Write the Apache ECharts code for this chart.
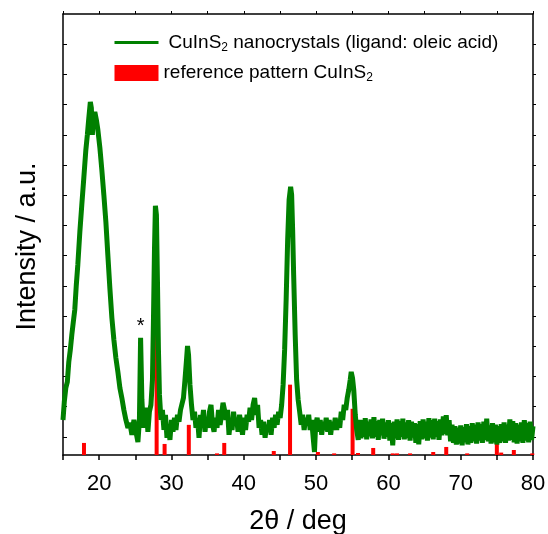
<!DOCTYPE html>
<html>
<head>
<meta charset="utf-8">
<script src="https://cdn.jsdelivr.net/npm/echarts@6/dist/echarts.min.js"></script>
<style>
html, body { margin: 0; padding: 0; background: #fff; }
#chart { width: 548px; height: 534px; }
</style>
</head>
<body>
<div id="chart"></div>
<script>
// measured XRD pattern of the nanocrystals: [2theta, intensity (a.u.)]
var nanoPattern = [
    [15.00, 0.56], [15.18, 1.16], [15.39, 1.62], [15.60, 1.82], [15.80, 2.48], [16.01, 2.88],
    [16.22, 3.38], [16.43, 3.81], [16.63, 4.21], [16.84, 5.03], [17.05, 5.70], [17.33, 6.79],
    [17.60, 7.68], [17.88, 8.58], [18.16, 9.50], [18.37, 10.0], [18.57, 10.56], [18.78, 11.09],
    [18.92, 10.89], [19.06, 10.0], [19.20, 10.56], [19.40, 10.76], [19.61, 10.50], [19.82, 10.17],
    [20.10, 9.57], [20.37, 8.84], [20.65, 8.01], [20.93, 7.12], [21.20, 6.03], [21.48, 4.93],
    [21.76, 3.94], [22.04, 3.21], [22.31, 2.62], [22.59, 2.15], [22.87, 1.62], [23.14, 1.29],
    [23.42, 0.89], [23.70, 0.56], [23.98, 0.30], [24.25, 0.46], [24.53, 0.07], [24.81, 0.56],
    [25.09, 0.17], [25.36, -0.17], [25.57, 0.56], [25.73, 3.28], [25.91, 1.23], [26.12, 0.30],
    [26.33, 0.73], [26.54, 0.96], [26.74, 0.17], [26.95, 0.83], [27.16, 1.06], [27.37, 1.89],
    [27.51, 3.87], [27.65, 6.19], [27.78, 7.65], [27.92, 7.35], [28.06, 5.20], [28.20, 2.88],
    [28.34, 1.39], [28.55, 0.56], [28.75, 0.89], [28.96, 0.23], [29.17, 0.73], [29.38, -0.03],
    [29.58, 0.40], [29.79, -0.10], [30.00, 0.56], [30.21, 0.17], [30.42, 0.63], [30.62, 0.23],
    [30.83, 0.73], [31.04, 0.50], [31.25, 0.89], [31.45, 0.83], [31.66, 1.29], [31.87, 1.89],
    [32.08, 2.55], [32.22, 3.01], [32.36, 2.72], [32.56, 1.72], [32.77, 1.06], [32.98, 0.56],
    [33.19, 0.83], [33.39, 0.30], [33.60, 0.63], [33.81, -0.03], [34.02, 0.73], [34.22, 0.40],
    [34.43, 0.89], [34.64, 0.17], [34.85, 0.63], [35.06, 0.30], [35.26, 0.83], [35.47, 1.06],
    [35.68, 0.40], [35.89, 0.17], [36.09, 0.63], [36.30, 0.30], [36.51, 0.89], [36.72, 0.40],
    [36.93, 0.73], [37.13, 1.13], [37.34, 0.89], [37.55, 0.56], [37.76, 0.89], [37.96, 0.07],
    [38.17, 0.56], [38.38, 0.23], [38.59, 0.83], [38.79, 0.40], [39.00, 0.63], [39.21, 0.17],
    [39.42, 0.73], [39.63, 0.40], [39.83, 0.07], [40.04, 0.63], [40.25, 0.23], [40.46, 0.73],
    [40.67, 0.50], [40.87, 0.96], [41.08, 0.56], [41.29, 1.06], [41.50, 1.29], [41.70, 0.73],
    [41.91, 1.06], [42.12, 0.30], [42.33, 0.56], [42.53, 0.07], [42.74, 0.50], [42.95, -0.03],
    [43.16, 0.40], [43.37, 0.17], [43.57, 0.56], [43.78, 0.07], [43.99, 0.63], [44.20, 0.30],
    [44.40, 0.73], [44.61, 0.40], [44.82, 0.83], [45.03, 0.63], [45.24, 1.06], [45.44, 1.72],
    [45.65, 2.88], [45.86, 4.54], [46.07, 6.52], [46.27, 7.85], [46.48, 8.28], [46.62, 8.01],
    [46.76, 6.85], [46.90, 5.36], [47.11, 3.38], [47.31, 1.89], [47.52, 1.23], [47.73, 0.83],
    [47.94, 0.40], [48.14, 0.73], [48.35, 0.23], [48.56, 0.63], [48.77, 0.40], [48.98, 0.73],
    [49.18, 0.23], [49.39, 0.56], [49.60, -0.03], [49.78, -0.50], [49.94, 0.40], [50.15, 0.63],
    [50.36, 0.17], [50.57, 0.56], [50.78, 0.07], [50.98, 0.50], [51.19, 0.23], [51.40, 0.63],
    [51.61, 0.17], [51.81, 0.56], [52.02, 0.07], [52.23, 0.50], [52.44, 0.23], [52.65, 0.63],
    [52.85, 0.23], [53.06, 0.56], [53.27, 0.30], [53.48, 0.83], [53.68, 0.56], [53.89, 1.06],
    [54.10, 0.89], [54.31, 1.29], [54.52, 1.56], [54.72, 1.89], [54.86, 2.15], [55.04, 1.95],
    [55.21, 1.56], [55.42, 0.73], [55.62, 0.23], [55.83, -0.10], [56.04, 0.56], [56.2, -0.05],
    [56.4, 0.55], [56.6, 0.00], [56.8, 0.62], [57.0, -0.08], [57.2, 0.50], [57.4, 0.02],
    [57.6, 0.58], [57.8, -0.05], [58.0, 0.65], [58.2, 0.00], [58.4, 0.52], [58.6, -0.10],
    [58.8, 0.56], [59.0, 0.05], [59.2, 0.60], [59.4, -0.06], [59.6, 0.48], [59.8, 0.00],
    [60.0, 0.55], [60.2, -0.12], [60.4, 0.45], [60.6, -0.28], [60.8, 0.50], [61.0, -0.05],
    [61.2, 0.58], [61.4, -0.10], [61.6, 0.52], [61.8, 0.00], [62.0, 0.60], [62.2, -0.08],
    [62.4, 0.48], [62.6, -0.04], [62.8, 0.55], [63.0, -0.12], [63.2, 0.50], [63.4, -0.02],
    [63.6, 0.45], [63.8, -0.20], [64.0, 0.42], [64.2, -0.25], [64.4, 0.52], [64.6, -0.08],
    [64.8, 0.58], [65.0, -0.05], [65.2, 0.50], [65.4, -0.12], [65.6, 0.62], [65.8, -0.02],
    [66.0, 0.55], [66.2, -0.08], [66.4, 0.60], [66.6, 0.00], [66.8, 0.52], [67.0, -0.10],
    [67.2, 0.58], [67.4, 0.05], [67.6, 0.68], [67.8, 0.10], [68.0, 0.72], [68.2, 0.05],
    [68.4, 0.55], [68.6, -0.15], [68.8, 0.40], [69.0, -0.20], [69.2, 0.35], [69.4, -0.25],
    [69.6, 0.30], [69.8, -0.22], [70.0, 0.38], [70.2, -0.28], [70.4, 0.32], [70.6, -0.18],
    [70.8, 0.42], [71.0, -0.25], [71.2, 0.35], [71.4, -0.20], [71.6, 0.45], [71.8, -0.15],
    [72.0, 0.40], [72.2, -0.22], [72.4, 0.48], [72.6, -0.12], [72.8, 0.42], [73.0, -0.20],
    [73.2, 0.50], [73.4, -0.10], [73.6, 0.60], [73.8, -0.15], [74.0, 0.38], [74.2, -0.22],
    [74.4, 0.45], [74.6, -0.18], [74.8, 0.40], [75.0, -0.25], [75.2, 0.35], [75.4, -0.20],
    [75.6, 0.42], [75.8, -0.15], [76.0, 0.48], [76.2, -0.20], [76.4, 0.40], [76.6, -0.12],
    [76.8, 0.58], [77.0, -0.10], [77.2, 0.52], [77.4, -0.18], [77.6, 0.45], [77.8, -0.22],
    [78.0, 0.40], [78.2, -0.15], [78.4, 0.48], [78.6, -0.20], [78.8, 0.55], [79.0, -0.12],
    [79.2, 0.45], [79.4, -0.18], [79.6, 0.50], [79.8, -0.10], [80.0, 0.35]
];

// reference pattern CuInS2 (relative intensity, strongest = 100)
var refAngle = [17.9, 27.95, 29.05, 32.4, 36.3, 37.3, 44.15, 46.4, 50.25, 52.5, 55.05, 55.8,
    57.9, 60.6, 61.2, 63.0, 66.2, 68.0, 70.9, 75.0, 75.6, 77.35, 79.9];
var refIntensity = [6, 100, 5.5, 15, 0.8, 6, 2, 35, 1.5, 0.8, 23, 1,
    3.5, 0.8, 0.8, 0.8, 1.5, 4, 0.8, 6.5, 1.2, 2.5, 0.8];

var yTicks = [0, 1, 2, 3, 4, 5, 6, 7, 8, 9, 10, 11, 12, 13];
var starAt = [25.75, 3.67];

var nanoName = 'CuInS2 nanocrystals (ligand: oleic acid)';
var refName = 'reference pattern CuInS2';

var myChart = echarts.init(document.getElementById('chart'));

var refData = [];
for (var i = 0; i < refAngle.length; i++) {
    refData.push([refAngle[i], refIntensity[i]]);
}

var black = '#000';
var font = 'Liberation Sans';

option = {
    animation: false,
    textStyle: { fontFamily: font, color: black },
    grid: { left: 63, right: 15, top: 14, bottom: 79, containLabel: false, outerBoundsMode: 'none' },
    legend: {
        orient: 'vertical',
        left: 113,
        top: 33,
        padding: 0,
        itemWidth: 44,
        itemHeight: 16,
        itemGap: 10,
        data: [
            { name: nanoName, itemStyle: { opacity: 0 }, lineStyle: { width: 3 } },
            { name: refName, icon: 'rect' }
        ],
        formatter: function (name) {
            if (name === nanoName) {
                return '{f|CuInS}{s|2}{n| nanocrystals (ligand: oleic acid)}';
            }
            return '{n|reference pattern CuInS}{s|2}';
        },
        textStyle: {
            fontFamily: font,
            color: black,
            fontSize: 19,
            rich: {
                f: { fontSize: 19, fontFamily: font, color: black, padding: [0, 0, 0, 5] },
                n: { fontSize: 19, fontFamily: font, color: black },
                s: { fontSize: 12, fontFamily: font, color: black, verticalAlign: 'bottom', padding: [10, 0, 0, 0] }
            }
        }
    },
    xAxis: [{
        type: 'value',
        min: 15,
        max: 80,
        interval: 5,
        name: '2θ / deg',
        nameLocation: 'middle',
        nameGap: 53,
        nameTextStyle: { fontSize: 27, fontFamily: font, color: black },
        axisLine: { onZero: false, lineStyle: { color: black, width: 1.5 } },
        axisTick: { length: 5, lineStyle: { color: black, width: 1.5 } },
        axisLabel: {
            fontSize: 22, color: black, margin: 18,
            formatter: function (v) { return v % 10 === 0 ? v : ''; }
        },
        splitLine: { show: false }
    }, {
        type: 'value',
        position: 'top',
        min: 15,
        max: 80,
        interval: 5,
        axisLine: { onZero: false, lineStyle: { color: black, width: 1.5 } },
        axisTick: { length: 3, lineStyle: { color: black, width: 1 } },
        axisLabel: { show: false },
        splitLine: { show: false }
    }],
    yAxis: [{
        type: 'value',
        min: -0.6,
        max: 14,
        name: 'Intensity / a.u.',
        nameLocation: 'middle',
        nameGap: 22,
        nameTextStyle: { fontSize: 27, fontFamily: font, color: black, padding: [0, 24, 0, 0] },
        axisLine: { show: true, onZero: false, lineStyle: { color: black, width: 1.5 } },
        axisTick: { show: true, inside: true, length: 4, customValues: yTicks, lineStyle: { color: black, width: 1 } },
        axisLabel: { show: false },
        splitLine: { show: false }
    }, {
        type: 'value',
        position: 'right',
        min: -0.6,
        max: 14,
        axisLine: { show: true, onZero: false, lineStyle: { color: black, width: 1.5 } },
        axisTick: { show: true, length: 3, customValues: yTicks, lineStyle: { color: black, width: 1 } },
        axisLabel: { show: false },
        splitLine: { show: false }
    }, {
        type: 'value',
        show: false,
        min: 0,
        max: 219.4
    }],
    series: [{
        name: nanoName,
        type: 'line',
        xAxisIndex: 0,
        yAxisIndex: 0,
        data: nanoPattern,
        symbol: 'none',
        color: '#008000',
        lineStyle: { color: '#008000', width: 5 },
        markPoint: {
            silent: true,
            symbol: 'rect',
            symbolSize: 1,
            itemStyle: { color: 'rgba(0,0,0,0)' },
            label: { show: true, formatter: '*', color: black, fontSize: 20, position: 'inside' },
            data: [{ coord: starAt }]
        }
    }, {
        name: refName,
        type: 'bar',
        xAxisIndex: 0,
        yAxisIndex: 2,
        data: refData,
        barWidth: 4,
        color: '#ff0000',
        itemStyle: { color: '#ff0000' }
    }]
};

myChart.setOption(option);
</script>
</body>
</html>
